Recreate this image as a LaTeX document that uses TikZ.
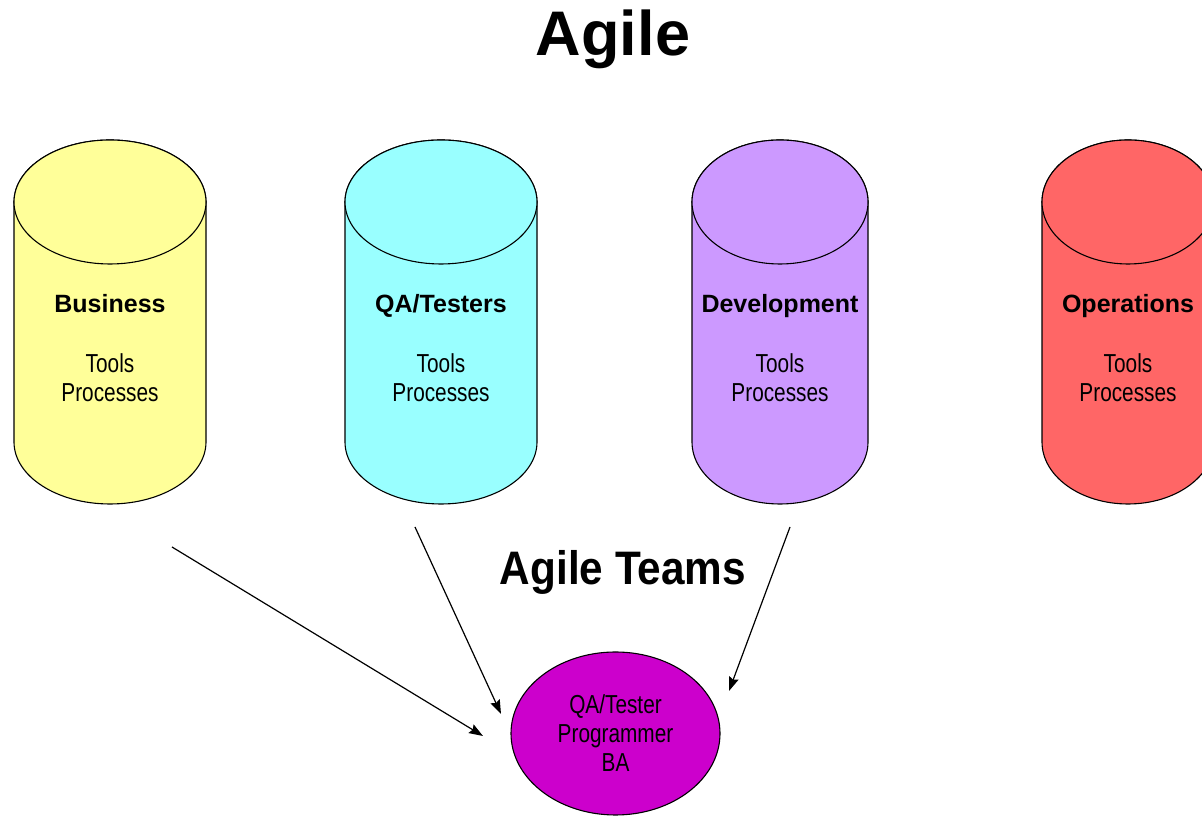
\documentclass[tikz,border=0pt]{standalone}
\usepackage{fontspec}
\setmainfont{Liberation Sans}
\newfontfamily\narrowsans{Liberation Sans}[FakeStretch=0.8]
\newfontfamily\narrowbold{Liberation Sans}[FakeStretch=0.9]
\usetikzlibrary{arrows.meta,shapes.geometric}

\definecolor{busfill}{HTML}{FFFF99}
\definecolor{qafill}{HTML}{99FFFF}
\definecolor{devfill}{HTML}{CC99FF}
\definecolor{opsfill}{HTML}{FF6666}
\definecolor{teamfill}{HTML}{CC00CC}

\tikzset{
  silobody/.style={draw=black, line width=1.1pt},
  silohead/.style={font=\fontsize{25}{29}\selectfont\bfseries, anchor=base, inner sep=0pt},
  silotext/.style={font=\narrowsans\fontsize{26}{29}\selectfont, anchor=base, inner sep=0pt},
  feed/.style={draw=black, line width=1.2pt, -{Stealth[length=14pt,width=10pt,inset=2pt]}},
}

% silo: #1 centre x, #2 half width, #3 fill colour
\newcommand\silo[3]{%
  \path[silobody, fill=#3]
    (#1-#2,616) -- (#1-#2,376)
    arc[start angle=180, end angle=360, x radius=#2pt, y radius=62pt]
    -- (#1+#2,616)
    arc[start angle=0, end angle=180, x radius=#2pt, y radius=62pt] -- cycle;
  \path[silobody, fill=#3] (#1,616) ellipse[x radius=#2pt, y radius=62pt];
}

\begin{document}
\begin{tikzpicture}[x=1pt,y=1pt]
  \useasboundingbox (0,0) rectangle (1202,818);
  \clip (0,0) rectangle (1202,818);

  % title
  \node[font=\fontsize{63}{70}\selectfont\bfseries, anchor=base, inner sep=0pt]
    (title) at (613,762) {Agile};

  % silos
  \silo{110}{96}{busfill}
  \silo{441}{96}{qafill}
  \silo{780}{88}{devfill}
  \silo{1128}{86}{opsfill}

  \node[silohead] (bus) at (110,505) {Business};
  \node[silotext] (bustools) at (110,445) {Tools};
  \node[silotext] (busproc) at (110,416) {Processes};

  \node[silohead] (qa) at (441,505) {QA/Testers};
  \node[silotext] (qatools) at (441,445) {Tools};
  \node[silotext] (qaproc) at (441,416) {Processes};

  \node[silohead] (dev) at (780,505) {Development};
  \node[silotext] (devtools) at (780,445) {Tools};
  \node[silotext] (devproc) at (780,416) {Processes};

  \node[silohead] (ops) at (1128,505) {Operations};
  \node[silotext] (opstools) at (1128,445) {Tools};
  \node[silotext] (opsproc) at (1128,416) {Processes};

  % team
  \node[font=\narrowbold\fontsize{47}{50}\selectfont\bfseries, anchor=base, inner sep=0pt]
    (teams) at (623,233) {Agile Teams};

  \node[ellipse, draw=black, line width=1.1pt, fill=teamfill,
        minimum width=209pt, minimum height=163pt, inner sep=0pt,
        align=center, font=\narrowsans\fontsize{26}{29}\selectfont]
    (team) at (615.5,84.5) {QA/Tester\\Programmer\\BA};

  % feeds into the team
  \coordinate (busout) at (172,271);
  \coordinate (qaout) at (415,291);
  \coordinate (devout) at (790,291);
  \coordinate (busin) at (483,82);
  \coordinate (qain) at (501,104);
  \coordinate (devin) at (729,127);

  \draw[feed] (busout) -- (busin);
  \draw[feed] (qaout) -- (qain);
  \draw[feed] (devout) -- (devin);
\end{tikzpicture}
\end{document}
